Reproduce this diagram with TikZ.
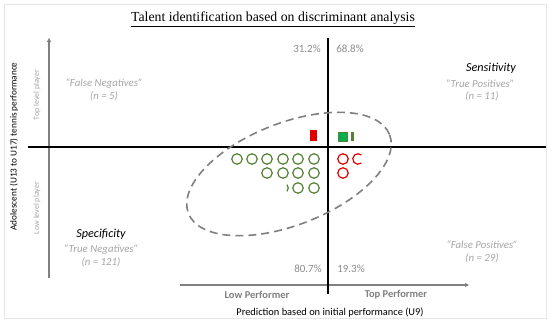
\documentclass[tikz,border=0pt]{standalone}
\usepackage{fontspec}
\setmainfont{Liberation Serif}
\newfontfamily\calib{Carlito}
\usetikzlibrary{arrows.meta}
\definecolor{framegray}{HTML}{E6E6E6}
\definecolor{axisgray}{HTML}{808080}
\definecolor{pctgray}{HTML}{8C8C8C}
\definecolor{lblgray}{HTML}{A6A6A6}
\definecolor{dotgreen}{HTML}{548235}
\definecolor{dotred}{HTML}{E00000}
\definecolor{sqgreen}{HTML}{00B050}
\tikzset{
  lbl/.style={font=\calib\fontsize{10.8}{11}\selectfont\itshape, text=lblgray, inner sep=0pt},
  pct/.style={font=\calib\fontsize{11}{12}\selectfont, text=pctgray, inner sep=0pt},
  head/.style={font=\calib\fontsize{12.2}{13}\selectfont\itshape, text=black, inner sep=0pt},
  perf/.style={font=\calib\fontsize{10.5}{11}\selectfont\bfseries, text=axisgray, inner sep=0pt},
  lvl/.style={font=\calib\fontsize{8}{9}\selectfont, text=lblgray, inner sep=0pt, rotate=90},
  gdot/.style={circle, draw=dotgreen, line width=1.2pt, minimum size=10.5pt, inner sep=0pt},
  rdot/.style={circle, draw=dotred, line width=1.2pt, minimum size=10.5pt, inner sep=0pt},
  axis/.style={draw=axisgray, line width=1.4pt, -{Triangle[length=4pt,width=4pt]}},
  divider/.style={draw=black, line width=1.5pt},
}
\begin{document}
\begin{tikzpicture}[x=1pt,y=-1pt]
\useasboundingbox (0,0) rectangle (550,324);
\fill[white] (0,0) rectangle (550,324);
\draw[framegray, line width=1pt] (4,4) rectangle (546,318);

% title
\node[inner sep=0pt, font=\fontsize{13.8}{15}\selectfont] (title) at (273,19) {\underline{Talent identification based on discriminant analysis}};

% axes
\coordinate (vbot) at (49,278);
\coordinate (vtop) at (49,38);
\draw[axis] (vbot) -- (vtop);
\coordinate (hleft) at (180,285);
\coordinate (hright) at (469,285);
\draw[axis] (hleft) -- (hright);

% dividing lines
\coordinate (dtop) at (328,38);
\coordinate (dbot) at (328,294);
\draw[divider] (dtop) -- (dbot);
\coordinate (dleft) at (28,147);
\coordinate (dright) at (546,147);
\draw[divider] (dleft) -- (dright);

% axis labels
\node[font=\calib\fontsize{9.25}{10}\selectfont, rotate=90, inner sep=0pt] (ylab) at (14,146.5) {Adolescent (U13 to U17) tennis performance};
\node[lvl] (toplvl) at (37,95) {Top level player};
\node[lvl] (lowlvl) at (37,208) {Low level player};
\node[perf] (lowperf) at (257,295) {Low Performer};
\node[perf] (topperf) at (396,295) {Top Performer};
\node[font=\calib\fontsize{10.4}{11}\selectfont, inner sep=0pt] (xlab) at (330,313) {Prediction based on initial performance (U9)};

% percentages
\node[pct] (p1) at (307,49) {31.2\%};
\node[pct] (p2) at (350,49) {68.8\%};
\node[pct] (p3) at (308,269) {80.7\%};
\node[pct] (p4) at (351,269) {19.3\%};

% quadrant labels
\node[head] (sens) at (491,68) {Sensitivity};
\node[lbl] (tp) at (480,84) {“True Positives”};
\node[lbl] (tpn) at (482,96) {(n = 11)};
\node[lbl] (fn) at (104,84) {“False Negatives”};
\node[lbl] (fnn) at (104,96) {(n = 5)};
\node[head] (spec) at (101,234) {Specificity};
\node[lbl] (tn) at (101,250) {“True Negatives”};
\node[lbl] (tnn) at (101,262) {(n = 121)};
\node[lbl] (fp) at (482,245) {“False Positives”};
\node[lbl] (fpn) at (482,258) {(n = 29)};

% ellipse
\draw[axisgray, line width=1.6pt, dash pattern=on 8pt off 5pt, rotate around={21.4:(289,174)}] (289,174) ellipse [x radius=108, y radius=51];

% markers
\fill[dotred] (310,130) rectangle (317,141);
\filldraw[fill=sqgreen, draw=dotgreen, line width=0.8pt] (338.5,132.5) rectangle (347,141);
\fill[dotgreen] (351,132) rectangle (354,141);

\foreach \x/\n in {237/a,252/b,267/c,283/d,298/e,314/f}
  \node[gdot] (g1\n) at (\x,159) {};
\foreach \x/\n in {267/a,283/b,298/c,314/d}
  \node[gdot] (g2\n) at (\x,173) {};
\foreach \x/\n in {298/a,314/b}
  \node[gdot] (g3\n) at (\x,188) {};
\draw[dotgreen, line width=1.2pt] (283,188) ++(-40:5.25) arc[start angle=-40, end angle=40, radius=5.25];

\node[rdot] (r1) at (343,159) {};
\node[rdot] (r2) at (343,173) {};
\draw[dotred, line width=1.2pt] (358,159) ++(50:5.25) arc[start angle=50, end angle=310, radius=5.25];
\end{tikzpicture}
\end{document}
